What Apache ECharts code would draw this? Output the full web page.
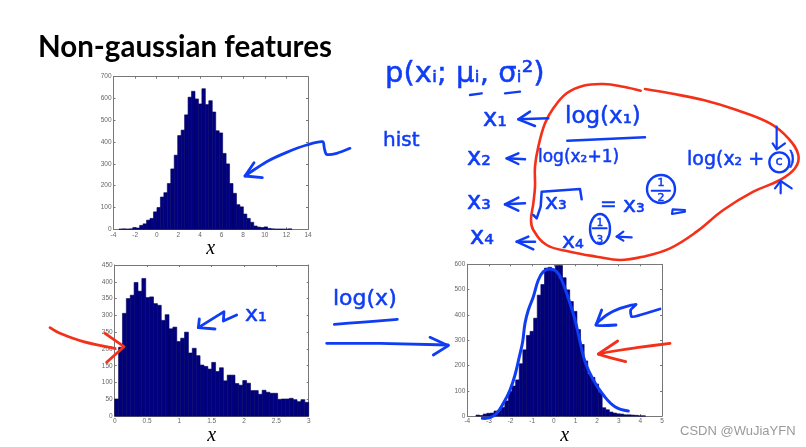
<!DOCTYPE html>
<html>
<head>
<meta charset="utf-8">
<title>Non-gaussian features</title>
<script src="https://cdn.jsdelivr.net/npm/echarts@6/dist/echarts.min.js"></script>
<style>
html, body { margin: 0; padding: 0; background: #fff; }
#chart { width: 806px; height: 447px; }
</style>
</head>
<body>
<div id="chart"></div>
<script>
// histogram of x, top left
const hist1Start = -3.5;
const hist1Bin = 0.32;
const hist1Counts = [1, 2, 1, 2, 8, 6, 18, 25, 42, 50, 80, 100, 148, 168, 210, 277, 340, 430, 455, 525,
	606, 633, 598, 575, 645, 572, 590, 538, 452, 442, 348, 300, 210, 165, 113, 103, 70, 50, 32, 15,
	10, 8, 11, 4, 2, 1, 1, 1, 0, 2];

// skewed histogram, bottom left
const hist2Start = 0;
const hist2Bin = 0.06;
const hist2Counts = [51, 205, 306, 350, 360, 398, 372, 410, 353, 355, 335, 330, 285, 302, 260, 265, 222, 232, 250, 188,
	202, 180, 152, 148, 140, 160, 133, 144, 105, 122, 122, 97, 92, 106, 98, 76, 76, 65, 77, 71,
	68, 68, 50, 51, 51, 53, 49, 43, 49, 41];

// after log(x), bottom right
const hist3Start = -3.6;
const hist3Bin = 0.1667;
const hist3Counts = [4, 2, 8, 11, 12, 20, 22, 34, 60, 97, 119, 143, 207, 262, 319, 335, 387, 478, 520, 585,
	588, 575, 595, 595, 547, 499, 453, 414, 342, 283, 218, 166, 153, 127, 94, 33, 25, 16, 12, 9,
	8, 5, 5, 4, 3, 1, 1];

const BLUE = '#0f3cf5';
const RED = '#f5301a';
const INK_FONT = '"DejaVu Sans"';

function bins(start, width, counts) {
	return counts.map((c, i) => [start + i * width, start + (i + 1) * width, c]);
}

function renderBar(params, api) {
	const a = api.coord([api.value(0), api.value(2)]);
	const b = api.coord([api.value(1), 0]);
	return {
		type: 'rect',
		shape: { x: a[0], y: a[1], width: b[0] - a[0], height: b[1] - a[1] },
		style: { fill: '#000080', stroke: '#00005c', lineWidth: 0.6 }
	};
}

const grids = [
	{ left: 113.5, top: 76.7, width: 194.5, height: 152.6 },
	{ left: 114.7, top: 265, width: 194, height: 152.3 },
	{ left: 467.3, top: 264.3, width: 194.7, height: 153 }
];
const xRanges = [[-4, 14, 2], [0, 3, 0.5], [-4, 5, 1]];
const yRanges = [[0, 700, 100], [0, 450, 50], [0, 600, 100]];

const xAxes = [], yAxes = [], series = [];
const hists = [
	bins(hist1Start, hist1Bin, hist1Counts),
	bins(hist2Start, hist2Bin, hist2Counts),
	bins(hist3Start, hist3Bin, hist3Counts)
];
const axisLine = { onZero: false, lineStyle: { color: '#777', width: 1 } };
const axisTick = { inside: true, length: 2, lineStyle: { color: '#777', width: 1 } };

grids.forEach((g, i) => {
	const xr = xRanges[i], yr = yRanges[i];
	xAxes.push({
		type: 'value', gridIndex: i, position: 'bottom', min: xr[0], max: xr[1], interval: xr[2],
		axisLine: axisLine, axisTick: axisTick, splitLine: { show: false },
		axisLabel: { fontSize: 6.5, color: '#666', margin: 2, fontFamily: 'Liberation Sans', hideOverlap: false },
		name: 'x', nameLocation: 'middle', nameGap: 7,
		nameTextStyle: { fontFamily: 'Liberation Serif', fontStyle: 'italic', fontSize: 20, color: '#000' }
	});
	xAxes.push({
		type: 'value', gridIndex: i, position: 'top', min: xr[0], max: xr[1], interval: xr[2],
		axisLine: axisLine, axisTick: axisTick, splitLine: { show: false }, axisLabel: { show: false }
	});
	yAxes.push({
		type: 'value', gridIndex: i, position: 'left', min: yr[0], max: yr[1], interval: yr[2],
		axisLine: axisLine, axisTick: axisTick, splitLine: { show: false },
		axisLabel: { fontSize: 6.5, color: '#666', margin: 2, fontFamily: 'Liberation Sans' }
	});
	yAxes.push({
		type: 'value', gridIndex: i, position: 'right', min: yr[0], max: yr[1], interval: yr[2],
		axisLine: axisLine, axisTick: axisTick, splitLine: { show: false }, axisLabel: { show: false }
	});
	series.push({
		type: 'custom',
		xAxisIndex: i * 2,
		yAxisIndex: i * 2,
		data: hists[i],
		renderItem: renderBar,
		encode: { x: [0, 1], y: 2 },
		silent: true
	});
});

function stroke(color, width, ox, oy, pts, smooth) {
	return {
		type: 'polyline',
		z: 20,
		silent: true,
		shape: { points: pts.map(p => [ox + p[0] / 3, oy + p[1] / 3]), smooth: smooth || 0 },
		style: { stroke: color, lineWidth: width, fill: null, lineCap: 'round', lineJoin: 'round' }
	};
}

function ellipse(color, width, ox, oy, cx, cy, rx, ry) {
	return {
		type: 'ellipse',
		z: 20,
		silent: true,
		shape: { cx: ox + cx / 3, cy: oy + cy / 3, rx: rx / 3, ry: ry / 3 },
		style: { stroke: color, lineWidth: width, fill: null }
	};
}

function ink(text, x, y, size, anchor) {
	return {
		type: 'text',
		z: 21,
		silent: true,
		x: x,
		y: y,
		style: {
			text: text,
			fill: BLUE,
			stroke: BLUE,
			lineWidth: 0.5,
			font: '500 ' + size + 'px ' + INK_FONT,
			textAlign: anchor || 'left',
			textVerticalAlign: 'middle'
		}
	};
}

const strokes = [
	// top left arrow
	stroke(BLUE, 2.8, 90, 65, [[780, 250], [740, 265], [710, 268], [703, 250], [698, 230], [650, 240], [590, 262], [530, 290], [465, 333]], 0.3),
	stroke(BLUE, 2.8, 90, 65, [[492, 293], [465, 333], [517, 338]]),
	// bottom left arrows
	stroke(RED, 2.8, 40, 255, [[30, 218], [60, 235], [130, 260], [225, 280]], 0.3),
	stroke(RED, 2.8, 40, 255, [[195, 235], [252, 275], [200, 322]]),
	stroke(BLUE, 2.8, 40, 255, [[590, 180], [550, 198], [552, 170], [475, 218], [525, 222]]),
	stroke(BLUE, 2.8, 40, 255, [[478, 192], [475, 218]]),
	// log(x) and the long arrow
	stroke(BLUE, 2.8, 320, 255, [[43, 208], [120, 202], [232, 193]], 0.3),
	stroke(BLUE, 2.8, 320, 255, [[20, 265], [180, 265], [385, 270]]),
	stroke(BLUE, 2.8, 320, 255, [[330, 247], [385, 272], [340, 300]]),
	// curve drawn over the right histogram
	stroke(BLUE, 3, 320, 255, [[487, 490], [510, 488], [530, 475], [550, 445], [570, 405], [585, 360], [598, 305], [608, 260], [615, 205], [625, 165], [640, 125], [655, 75], [670, 50], [690, 42], [710, 50], [725, 75], [745, 130], [765, 195], [780, 260], [795, 320], [820, 375], [850, 420], [885, 455], [925, 468]], 0.4),
	stroke(BLUE, 2.8, 320, 255, [[1020, 162], [960, 180], [935, 185], [932, 165], [948, 148], [900, 160], [860, 180], [828, 210], [888, 210]], 0.2),
	stroke(BLUE, 2.8, 320, 255, [[845, 165], [828, 210]]),
	stroke(RED, 2.8, 320, 255, [[1050, 265], [950, 278], [835, 297], [917, 320]], 0.1),
	stroke(RED, 2.8, 320, 255, [[893, 258], [835, 297]]),
	// red outline, right side
	stroke(RED, 2.6, 370, 40, [[825, 147], [900, 160], [1000, 180], [1100, 210], [1200, 250], [1255, 295], [1285, 345], [1275, 385], [1230, 420], [1150, 455], [1060, 510], [980, 575], [900, 625], [820, 650], [750, 660], [680, 650], [600, 635], [530, 615], [490, 570], [483, 540], [490, 490], [495, 440], [495, 380], [505, 320], [525, 250], [550, 205], [590, 160], [640, 137], [700, 132], [760, 140], [812, 152]], 0.4),
	// underlines under mu and sigma
	stroke(BLUE, 2.4, 370, 40, [[300, 165], [335, 160]]),
	stroke(BLUE, 2.4, 370, 40, [[405, 160], [450, 155]]),
	// small arrows pointing at x1..x4
	stroke(BLUE, 2.5, 370, 40, [[535, 235], [445, 238]]),
	stroke(BLUE, 2.5, 370, 40, [[480, 215], [445, 238], [495, 258]]),
	stroke(BLUE, 2.5, 370, 40, [[465, 358], [410, 355]]),
	stroke(BLUE, 2.5, 370, 40, [[445, 340], [410, 355], [445, 372]]),
	stroke(BLUE, 2.5, 370, 40, [[465, 490], [405, 493]]),
	stroke(BLUE, 2.5, 370, 40, [[445, 473], [405, 493], [445, 512]]),
	stroke(BLUE, 2.5, 370, 40, [[495, 605], [440, 605]]),
	stroke(BLUE, 2.5, 370, 40, [[475, 590], [440, 605], [490, 628]]),
	// fraction bar, root sign
	stroke(BLUE, 2.5, 370, 40, [[592, 302], [825, 292]]),
	stroke(BLUE, 2.5, 370, 40, [[490, 525], [500, 535], [512, 500], [515, 455], [630, 447], [635, 478]]),
	// circled exponents and constant
	ellipse(BLUE, 2.4, 370, 40, 873, 447, 42, 42),
	stroke(BLUE, 2, 370, 40, [[845, 452], [900, 452]]),
	stroke(BLUE, 2.2, 370, 40, [[945, 510], [908, 508], [906, 522], [945, 515]]),
	ellipse(BLUE, 2.4, 370, 40, 690, 567, 30, 45),
	stroke(BLUE, 2, 370, 40, [[668, 565], [710, 565]]),
	stroke(BLUE, 2.2, 370, 40, [[785, 592], [740, 590]]),
	stroke(BLUE, 2.2, 370, 40, [[760, 575], [740, 590], [760, 602]]),
	ellipse(BLUE, 2.4, 370, 40, 1228, 367, 30, 30),
	stroke(BLUE, 2.2, 370, 40, [[1220, 260], [1220, 325]]),
	stroke(BLUE, 2.2, 370, 40, [[1208, 310], [1220, 328], [1245, 310]]),
	stroke(BLUE, 2.2, 370, 40, [[1232, 460], [1232, 425]]),
	stroke(BLUE, 2.2, 370, 40, [[1215, 445], [1232, 423], [1265, 445]])
];

const notes = [
	ink('p(xᵢ; μᵢ, σᵢ²)', 385, 74, 29),
	ink('hist', 383, 141, 20),
	ink('x₁', 483, 120, 24),
	ink('x₂', 467, 159, 24),
	ink('x₃', 467, 203, 24),
	ink('x₄', 470, 238, 24),
	ink('log(x₁)', 565, 117, 23),
	ink('log(x₂+1)', 538, 158, 17),
	ink('log(x₂ +', 687, 160, 19),
	ink('c', 779, 162, 13, 'center'),
	ink(')', 788, 160, 19),
	ink('x₃', 545, 203, 22),
	ink('=', 600, 205, 20),
	ink('x₃', 623, 206, 22),
	ink('1', 661, 183, 11, 'center'),
	ink('2', 661, 198, 11, 'center'),
	ink('x₄', 562, 242, 22),
	ink('1', 600, 223, 10, 'center'),
	ink('3', 600, 240, 10, 'center'),
	ink('x₁', 245, 315, 22),
	ink('log(x)', 333, 299, 22),
	{
		type: 'text',
		z: 22,
		silent: true,
		x: 680,
		y: 431,
		style: { text: 'CSDN @WuJiaYFN', fill: '#9a9a9a', font: '13px "Liberation Sans"', textVerticalAlign: 'middle' }
	}
];

const chart = echarts.init(document.getElementById('chart'), null, { renderer: 'canvas' });
chart.setOption({
	animation: false,
	backgroundColor: '#fff',
	title: {
		text: 'Non-gaussian features',
		left: 33,
		top: 27,
		textStyle: { fontFamily: 'Lato', fontWeight: 'bold', fontSize: 29.5, color: '#000' }
	},
	grid: grids,
	xAxis: xAxes,
	yAxis: yAxes,
	series: series,
	graphic: { elements: strokes.concat(notes) }
});
</script>
</body>
</html>
